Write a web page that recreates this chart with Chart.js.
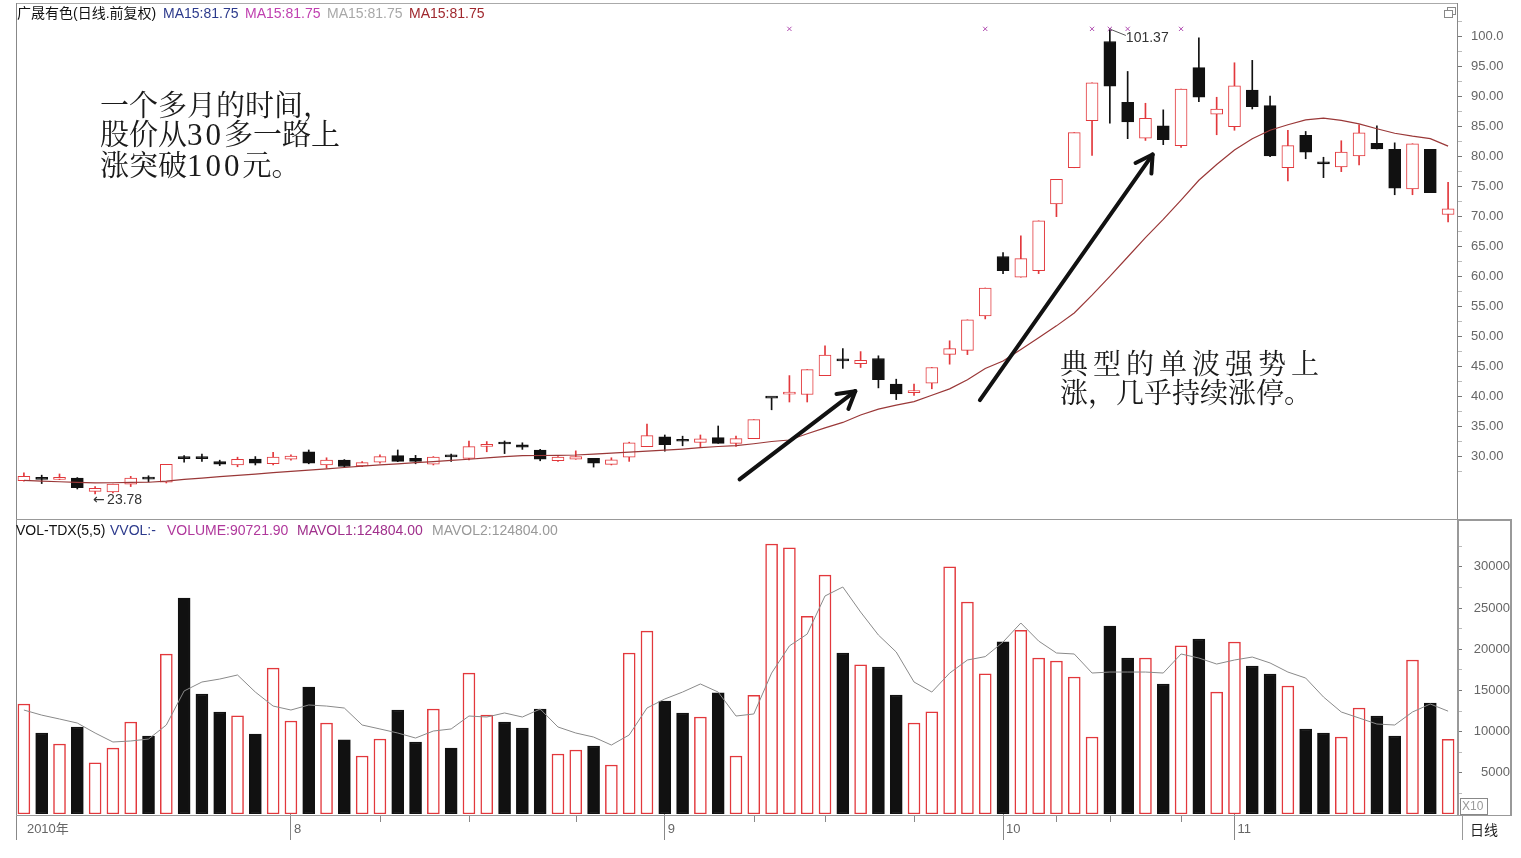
<!DOCTYPE html>
<html>
<head>
<meta charset="utf-8">
<title>广晟有色 日线</title>
<script src="https://cdn.jsdelivr.net/npm/chart.js@4/dist/chart.umd.min.js"></script>
<style>
  body { margin: 0; background: #fff; width: 1521px; height: 858px; position: relative; overflow: hidden;
         font-family: "Liberation Sans", "Noto Sans CJK SC", sans-serif; }
  canvas { position: absolute; left: 0; }
  #price { top: 0; }
  #vol { top: 520px; }
  .ln { position: absolute; background: #999; }
  .hdr { position: absolute; font-size: 14px; line-height: 16px; white-space: nowrap; }
  .note { position: absolute; font-family: "Noto Serif CJK SC", "Noto Sans CJK SC", serif;
          font-size: 29px; line-height: 29px; color: #1a1a1a; white-space: nowrap; }
  .num { font-family: "Liberation Serif", serif; font-size: 31px; letter-spacing: 3px; }
  .box { position: absolute; box-sizing: border-box; border: 1px solid #888; }
</style>
</head>
<body>
<canvas id="price" width="1521" height="520"></canvas>
<canvas id="vol" width="1521" height="338"></canvas>

<!-- frame lines -->
<div class="ln" style="left:16px;top:3px;width:1442px;height:1px;background:#aaa"></div>
<div class="ln" style="left:16px;top:3px;width:1px;height:837px;background:#888"></div>
<div class="ln" style="left:16px;top:519px;width:1496px;height:1px"></div>
<div class="ln" style="left:1457px;top:3px;width:1px;height:516px;background:#888"></div>
<div class="ln" style="left:16px;top:815px;width:1496px;height:1px"></div>
<div class="box" style="left:1457px;top:520px;width:55px;height:296px;border-width:1px 2px 1px 2px;border-color:#999"></div>
<div class="ln" style="left:1462px;top:815px;width:1px;height:25px"></div>
<div class="box" style="left:1460px;top:798px;width:28px;height:17px;font-size:12px;line-height:15px;color:#999;padding-left:1px">X10</div>
<div class="hdr" style="left:1470px;top:822px;color:#222">日线</div>
<div class="box" style="left:1447px;top:7px;width:9px;height:8px;background:#fff"></div>
<div class="box" style="left:1444px;top:10px;width:9px;height:8px;background:#fff"></div>

<!-- headers -->
<div class="hdr" style="left:17px;top:5px;color:#111">广晟有色(日线.前复权)</div>
<div class="hdr" style="left:163px;top:5px;color:#2c3a8c">MA15:81.75</div>
<div class="hdr" style="left:245px;top:5px;color:#c040b0">MA15:81.75</div>
<div class="hdr" style="left:327px;top:5px;color:#a8a8a8">MA15:81.75</div>
<div class="hdr" style="left:409px;top:5px;color:#a0282e">MA15:81.75</div>

<div class="hdr" style="left:16px;top:522px;color:#111">VOL-TDX(5,5)</div>
<div class="hdr" style="left:110px;top:522px;color:#2c3a8c">VVOL:-</div>
<div class="hdr" style="left:167px;top:522px;color:#b0389c">VOLUME:90721.90</div>
<div class="hdr" style="left:297px;top:522px;color:#a0308c">MAVOL1:124804.00</div>
<div class="hdr" style="left:432px;top:522px;color:#999">MAVOL2:124804.00</div>

<!-- notes -->
<div class="note" style="left:100px;top:89px">一个多月的时间，<br>股价从<span class="num">30</span>多一路上<br>涨突破<span class="num">100</span>元。</div>
<div class="note" style="left:1060px;top:348px;font-size:28px"><span style="letter-spacing:5px">典型的单波强势上</span><br>涨，几乎持续涨停。</div>

<script>
// daily candles (price, yuan)
const open = [26.0, 26.3, 26.2, 26.4, 24.2, 24.1, 25.4, 26.35, 25.75, 29.75,
  29.75, 29.15, 28.6, 29.6, 28.8, 29.55, 30.8, 28.6, 29.4, 28.45,
  29.05, 30.15, 29.7, 28.75, 30.05, 29.7, 31.7, 32.25, 31.95, 31.1,
  29.3, 29.55, 29.7, 28.7, 29.9, 31.65, 33.3, 32.6, 32.35, 33.15,
  32.2, 33.0, 39.75, 40.4, 40.35, 43.5, 46.0, 45.5, 46.35, 42.1,
  40.65, 42.25, 47.05, 47.7, 53.45, 63.35, 59.9, 61.0, 72.1, 78.15,
  86.0, 99.2, 89.05, 83.1, 85.15, 81.85, 94.85, 87.1, 85.0, 91.1,
  88.5, 78.15, 83.55, 79.15, 78.3, 80.1, 82.2, 81.2, 74.6, 81.2, 70.35];
const high = [27.3, 26.9, 27.1, 26.5, 25.0, 25.4, 26.7, 26.8, 28.7, 30.15,
  30.4, 29.4, 29.9, 30.0, 30.7, 30.3, 31.1, 29.8, 29.5, 29.15,
  30.3, 31.1, 30.2, 30.0, 30.4, 32.6, 32.5, 32.6, 32.3, 31.2,
  30.0, 30.95, 29.7, 29.8, 32.4, 35.4, 33.6, 33.4, 33.6, 35.1,
  33.4, 36.15, 39.75, 43.5, 44.5, 48.45, 48.0, 47.5, 46.8, 42.9,
  42.1, 44.85, 49.3, 52.8, 58.1, 64.0, 66.8, 69.3, 76.2, 84.0,
  92.3, 101.37, 94.2, 88.9, 87.8, 91.25, 99.8, 89.9, 95.65, 96.05,
  90.1, 84.4, 84.2, 79.9, 82.65, 85.3, 85.15, 82.3, 82.15, 81.2, 75.7];
const low = [25.9, 25.5, 26.15, 24.6, 23.78, 23.95, 25.0, 25.8, 25.6, 29.05,
  29.2, 28.5, 28.3, 28.6, 28.6, 29.4, 28.8, 28.1, 28.3, 28.3,
  28.9, 29.15, 28.8, 28.6, 29.2, 29.45, 30.8, 30.5, 31.2, 29.3,
  29.2, 29.55, 28.25, 28.6, 29.2, 31.65, 30.9, 31.8, 31.5, 32.2,
  31.7, 33.0, 37.8, 39.1, 39.1, 43.5, 44.7, 44.85, 41.45, 39.5,
  40.2, 41.3, 45.4, 47.0, 52.95, 60.5, 59.9, 60.5, 70.0, 78.15,
  80.2, 85.6, 83.0, 82.7, 82.0, 81.55, 89.15, 83.65, 84.4, 87.95,
  80.0, 75.95, 79.65, 76.5, 77.5, 78.6, 81.3, 73.65, 73.65, 74.0, 69.1];
const close = [26.7, 26.2, 26.5, 24.8, 24.7, 25.4, 26.4, 26.25, 28.7, 29.65,
  29.65, 28.75, 29.55, 28.9, 29.9, 30.1, 28.9, 29.4, 28.35, 29.0,
  30.0, 29.2, 29.2, 29.9, 29.95, 31.65, 31.8, 32.1, 31.55, 29.55,
  29.9, 30.0, 28.9, 29.45, 32.3, 33.5, 32.0, 32.55, 32.95, 32.2,
  33.0, 36.15, 39.75, 40.55, 44.5, 46.9, 45.95, 46.05, 42.8, 40.45,
  40.75, 44.85, 48.0, 52.8, 58.1, 61.0, 63.0, 69.3, 76.2, 84.0,
  92.3, 91.75, 85.8, 86.4, 82.85, 91.25, 89.9, 87.95, 91.8, 88.35,
  80.1, 81.85, 80.75, 78.8, 80.75, 83.95, 81.3, 74.75, 82.15, 74.0, 71.3];
const ma15 = [26.04, 25.92, 25.80, 25.71, 25.61, 25.64, 25.69, 25.72, 25.90, 26.20,
  26.40, 26.65, 26.86, 27.08, 27.31, 27.52, 27.74, 27.95, 28.18, 28.40,
  28.61, 28.79, 28.99, 29.17, 29.35, 29.55, 29.78, 30.00, 30.15, 30.18,
  30.21, 30.26, 30.41, 30.58, 30.74, 30.91, 31.07, 31.25, 31.49, 31.68,
  31.81, 32.14, 32.51, 32.76, 33.80, 34.79, 35.69, 36.93, 37.92, 38.58,
  39.16, 40.23, 41.28, 42.79, 44.69, 45.93, 47.83, 49.81, 51.79, 53.94,
  56.91, 60.05, 63.27, 66.49, 69.54, 72.76, 76.06, 78.70, 81.10, 82.99,
  84.40, 85.31, 86.13, 86.41, 86.05, 85.47, 84.65, 83.90, 83.41, 83.00, 81.75];
// volume (x10 shares) and its moving average
const volume = [13350, 9830, 8500, 10560, 6200, 8000, 11170, 9470, 19400, 26200,
  14560, 12380, 11900, 9700, 17700, 11290, 15400, 11040, 9000, 7040,
  9100, 12620, 8740, 12740, 8000, 17100, 12000, 11170, 10440, 12740,
  7280, 7770, 8250, 5950, 19540, 22200, 13700, 12260, 11770, 14700,
  7040, 14400, 32770, 32300, 24000, 29000, 19540, 18100, 17840, 14440,
  11040, 12400, 30000, 25730, 17000, 20900, 22300, 18930, 18570, 16630,
  9340, 22800, 18930, 18930, 15780, 20400, 21240, 14800, 20870, 17960,
  16990, 15530, 10320, 9830, 9340, 12860, 11890, 9470, 18690, 13470, 9072];
const volMa = [12620, 12000, 11530, 11040, 9830, 8740, 8860, 9100, 10800, 14930,
  16020, 16380, 16870, 14800, 13100, 12620, 13230, 13100, 12860, 10800,
  10320, 9830, 9220, 10070, 10320, 11890, 11770, 12260, 11770, 12740,
  10560, 9830, 9340, 8370, 9590, 12860, 13960, 14800, 15780, 14800,
  11890, 12140, 17100, 20400, 21840, 26460, 27550, 24510, 21720, 19660,
  16020, 14800, 17100, 18690, 19100, 20870, 23180, 20990, 19540, 19420,
  17110, 17230, 17230, 17230, 17110, 19420, 18930, 18200, 18690, 19050,
  18330, 17230, 16500, 14200, 12380, 11650, 10920, 10800, 12380, 13350, 12480];
// signal marks along the top of the price panel
const signalIdx = [43, 54, 60, 61, 62, 65];
const signalLevel = 101.3;
// axis ticks
const monthIdx = [0, 15, 36, 55, 68];
const monthLabels = ['2010年', '8', '9', '10', '11'];
const weekIdx = [20, 25, 31, 41, 45, 50, 58, 61, 65];
const priceTicks = [30, 35, 40, 45, 50, 55, 60, 65, 70, 75, 80, 85, 90, 95, 100];
const volTicks = [5000, 10000, 15000, 20000, 25000, 30000];
// hand-drawn arrows: [fromIdx, fromPrice, toIdx, toPrice]
const arrows = [[40.2, 26.2, 46.7, 40.9], [53.7, 39.4, 63.4, 80.35]];

const RED = '#e2383c', BLK = '#111';
const idx = open.map((_, i) => i);
const candleUp = idx.map(i => close[i] > open[i]);
const volUp = idx.map(i => close[i] >= open[i]);
const candleColor = idx.map(i => candleUp[i] ? RED : BLK);

Chart.defaults.font.family = '"Liberation Sans", "Noto Sans CJK SC", sans-serif';
Chart.defaults.font.size = 13;
Chart.defaults.color = '#555';

function withMinors(majors, step) {
  const out = [];
  majors.forEach(v => { out.push(v); out.push(v + step); });
  out.unshift(majors[0] - step);
  return out;
}

// keep the plot area exactly where the layout padding puts it
function fixSide(width) {
  return s => {
    s.width = width;
    s.paddingTop = 0; s.paddingBottom = 0; s.paddingLeft = 0; s.paddingRight = 0;
  };
}

const priceNotes = {
  id: 'priceNotes',
  afterDatasetsDraw(chart) {
    const { ctx, scales: { x, y } } = chart;
    ctx.save();
    ctx.strokeStyle = '#111';
    ctx.lineWidth = 4;
    ctx.lineCap = 'round';
    arrows.forEach(a => {
      const x0 = x.getPixelForValue(a[0]), y0 = y.getPixelForValue(a[1]);
      const x1 = x.getPixelForValue(a[2]), y1 = y.getPixelForValue(a[3]);
      ctx.beginPath(); ctx.moveTo(x0, y0); ctx.lineTo(x1, y1); ctx.stroke();
      const ang = Math.atan2(y1 - y0, x1 - x0);
      [0.5, -0.55].forEach(d => {
        ctx.beginPath(); ctx.moveTo(x1, y1);
        ctx.lineTo(x1 - 19 * Math.cos(ang + d), y1 - 19 * Math.sin(ang + d));
        ctx.stroke();
      });
    });

    // highest / lowest price labels
    const hi = Math.max(...high), lo = Math.min(...low);
    const hiI = high.indexOf(hi), loI = low.indexOf(lo);
    ctx.font = '14px "Liberation Sans", sans-serif';
    ctx.fillStyle = '#333';
    ctx.textBaseline = 'middle';
    ctx.textAlign = 'left';
    let px = x.getPixelForValue(hiI), py = y.getPixelForValue(hi);
    ctx.strokeStyle = '#555'; ctx.lineWidth = 1; ctx.lineCap = 'butt';
    ctx.beginPath(); ctx.moveTo(px + 1, py + 1); ctx.lineTo(px + 16, py + 7); ctx.stroke();
    ctx.fillText(hi.toFixed(2), px + 16, py + 10);
    px = x.getPixelForValue(loI); py = y.getPixelForValue(lo);
    ctx.font = '14px "DejaVu Sans", sans-serif';
    ctx.fillText('←', px - 2, py + 6);
    ctx.font = '14px "Liberation Sans", sans-serif';
    ctx.fillText(lo.toFixed(2), px + 12, py + 6);
    ctx.restore();
  }
};

new Chart(document.getElementById('price'), {
  type: 'bar',
  data: {
    labels: idx,
    datasets: [
      { type: 'line', data: ma15, borderColor: '#9a3838', borderWidth: 1.2, pointRadius: 0, tension: 0 },
      { type: 'line', data: idx.map(i => signalIdx.includes(i) ? signalLevel : null), showLine: false,
        pointStyle: 'crossRot', pointRadius: 3, borderColor: '#b04cb0', borderWidth: 1 },
      { data: idx.map(i => [open[i], close[i]]), grouped: false, barThickness: 12, minBarLength: 2,
        backgroundColor: idx.map(i => candleUp[i] ? '#fff' : BLK), borderColor: candleColor,
        borderWidth: 1, borderSkipped: false },
      { data: idx.map(i => [low[i], high[i]]), grouped: false, barThickness: 1,
        backgroundColor: candleColor, borderWidth: 0 }
    ]
  },
  options: {
    responsive: false, animation: false,
    layout: { padding: { left: 15, right: 11, top: 4, bottom: 1 } },
    plugins: { legend: { display: false }, tooltip: { enabled: false } },
    scales: {
      x: { display: false },
      y: {
        position: 'right', min: 20.26, max: 105.28,
        afterBuildTicks: s => { s.ticks = withMinors(priceTicks, 2.5).map(v => ({ value: v })); },
        afterFit: fixSide(53),
        grid: { drawOnChartArea: false, tickLength: 5,
                tickColor: c => priceTicks.includes(c.tick.value) ? '#777' : '#bbb' },
        border: { display: true, color: '#888' },
        ticks: { autoSkip: false, padding: 9, color: '#666',
                 callback: v => priceTicks.includes(v) ? (v >= 100 ? v.toFixed(1) : v.toFixed(2)) : '' }
      }
    }
  },
  plugins: [priceNotes]
});

const weekTicks = {
  id: 'weekTicks',
  afterDraw(chart) {
    const { ctx, chartArea, scales: { x } } = chart;
    ctx.save();
    ctx.strokeStyle = '#888';
    ctx.lineWidth = 1;
    weekIdx.forEach(i => {
      const px = Math.round(x.getPixelForValue(i)) + 0.5;
      ctx.beginPath(); ctx.moveTo(px, chartArea.bottom + 1); ctx.lineTo(px, chartArea.bottom + 8); ctx.stroke();
    });
    ctx.restore();
  }
};

new Chart(document.getElementById('vol'), {
  type: 'bar',
  data: {
    labels: idx,
    datasets: [
      { type: 'line', data: volMa, borderColor: '#8a8a8a', borderWidth: 1, pointRadius: 0, tension: 0 },
      { data: volume, barThickness: 12, borderSkipped: false, borderWidth: 1.5,
        backgroundColor: idx.map(i => volUp[i] ? '#fff' : BLK),
        borderColor: idx.map(i => volUp[i] ? RED : BLK) }
    ]
  },
  options: {
    responsive: false, animation: false,
    layout: { padding: { left: 15, right: 11, top: 1, bottom: 14 } },
    plugins: { legend: { display: false }, tooltip: { enabled: false } },
    scales: {
      x: {
        afterFit: s => { s.height = 30; s.paddingLeft = 0; s.paddingRight = 0; },
        grid: { offset: false, drawOnChartArea: false, tickLength: 26,
                color: c => (c.index > 0 && monthIdx.includes(c.index)) ? '#888' : 'rgba(0,0,0,0)' },
        border: { display: false },
        ticks: { autoSkip: false, maxRotation: 0, minRotation: 0, align: 'start', padding: -18, labelOffset: 3,
                 color: '#666',
                 callback: (v, i) => { const k = monthIdx.indexOf(i); return k >= 0 ? monthLabels[k] : ''; } }
      },
      y: {
        position: 'right', min: 0, max: 35560,
        afterBuildTicks: s => { s.ticks = withMinors(volTicks, 2500).map(v => ({ value: v })); },
        afterFit: fixSide(53),
        grid: { drawOnChartArea: false, tickLength: 5,
                tickColor: c => volTicks.includes(c.tick.value) ? '#777' : '#bbb' },
        border: { display: true, color: '#888' },
        ticks: { autoSkip: false, padding: 12, crossAlign: 'far', color: '#666',
                 callback: v => volTicks.includes(v) ? String(v) : '' }
      }
    }
  },
  plugins: [weekTicks]
});
</script>
</body>
</html>
